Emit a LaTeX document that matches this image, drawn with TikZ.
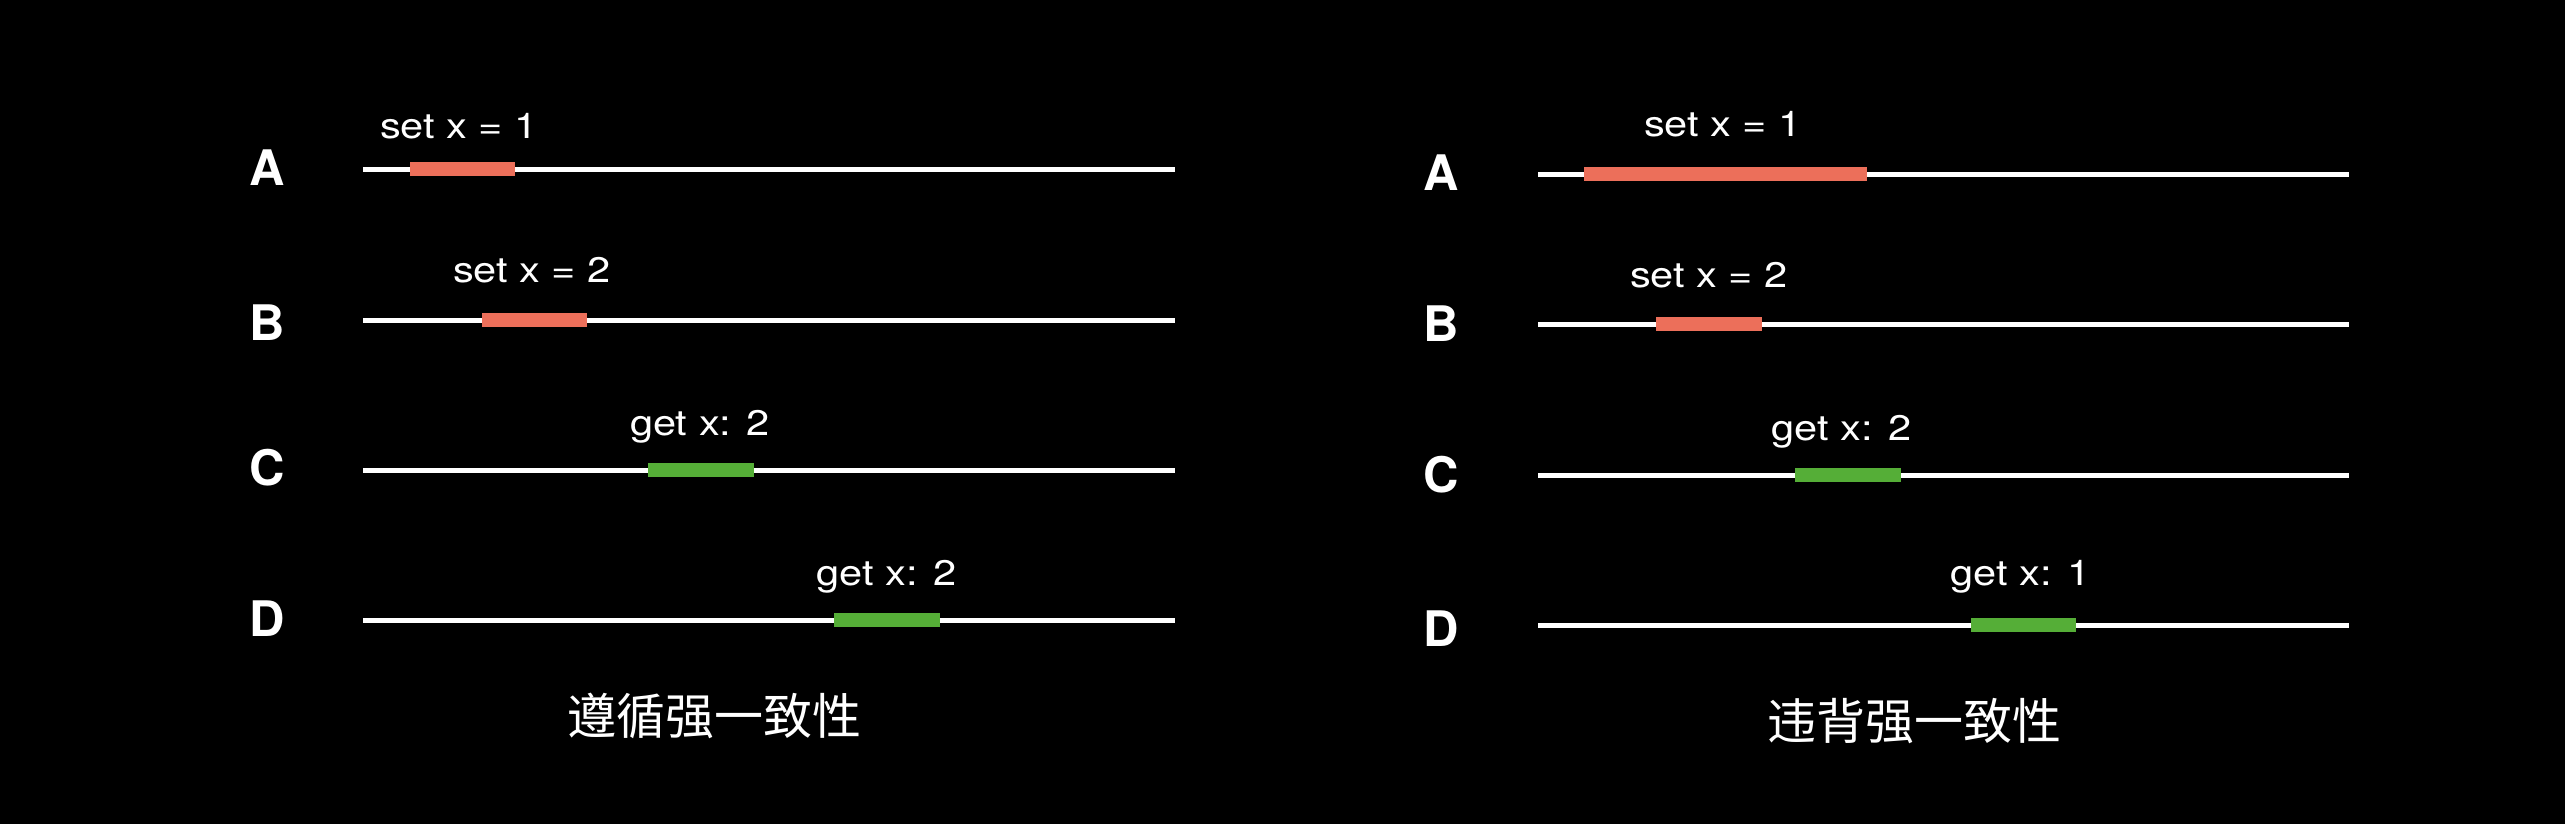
\documentclass[tikz,border=0pt]{standalone}
\usepackage{fontspec}
\usepackage{graphicx}
\setmainfont{TeX Gyre Heros}
\newfontfamily\cjk{Noto Sans CJK SC}
\definecolor{setred}{RGB}{236,111,90}
\definecolor{getgreen}{RGB}{85,174,55}
\newcommand\opw[1]{\scalebox{1.17}[1]{#1}}
\begin{document}
\begin{tikzpicture}[x=1pt,y=-1pt,
  track/.style={draw=white,line width=5pt},
  setbar/.style={draw=setred,line width=14pt},
  getbar/.style={draw=getgreen,line width=14pt},
  proc/.style={text=white,inner sep=0pt,font=\fontsize{49}{55}\selectfont\bfseries},
  oplabel/.style={text=white,inner sep=0pt,anchor=base,font=\fontsize{35.5}{40}\selectfont},
  caption/.style={text=white,inner sep=0pt,font=\cjk\fontsize{49}{55}\selectfont}]
\useasboundingbox (0,0) rectangle (2565,823);
\fill[black] (-3,-3) rectangle (2568,826);

% ---------- left panel ----------
\node[proc] (LA) at (267,167.5) {A};
\node[proc] (LB) at (267,323) {B};
\node[proc] (LC) at (267,467.5) {C};
\node[proc] (LD) at (267,618.5) {D};

\coordinate (LA1) at (363,169.3); \coordinate (LA2) at (1175,169.3);
\coordinate (LB1) at (363,320.3); \coordinate (LB2) at (1175,320.3);
\coordinate (LC1) at (363,470.3); \coordinate (LC2) at (1175,470.3);
\coordinate (LD1) at (363,620.3); \coordinate (LD2) at (1175,620.3);
\draw[track] (LA1) -- (LA2);
\draw[track] (LB1) -- (LB2);
\draw[track] (LC1) -- (LC2);
\draw[track] (LD1) -- (LD2);

\coordinate (LAs) at (410,169.3); \coordinate (LAe) at (515,169.3);
\coordinate (LBs) at (482,320.3); \coordinate (LBe) at (587,320.3);
\coordinate (LCs) at (648,470.3); \coordinate (LCe) at (754,470.3);
\coordinate (LDs) at (834,620.3); \coordinate (LDe) at (940,620.3);
\draw[setbar] (LAs) -- (LAe);
\draw[setbar] (LBs) -- (LBe);
\draw[getbar] (LCs) -- (LCe);
\draw[getbar] (LDs) -- (LDe);

\node[oplabel] (LAt) at (459,138) {\opw{set x = 1}};
\node[oplabel] (LBt) at (532,282.7) {\opw{set x = 2}};
\node[oplabel] (LCt) at (700,435) {\opw{get x: 2}};
\node[oplabel] (LDt) at (886.5,585) {\opw{get x: 2}};

\node[caption] (Lcap) at (714,715.5) {遵循强一致性};

% ---------- right panel ----------
\node[proc] (RA) at (1441,172.5) {A};
\node[proc] (RB) at (1441,324) {B};
\node[proc] (RC) at (1441,475) {C};
\node[proc] (RD) at (1441,628.5) {D};

\coordinate (RA1) at (1538,174.3); \coordinate (RA2) at (2349,174.3);
\coordinate (RB1) at (1538,324.3); \coordinate (RB2) at (2349,324.3);
\coordinate (RC1) at (1538,475.3); \coordinate (RC2) at (2349,475.3);
\coordinate (RD1) at (1538,625.3); \coordinate (RD2) at (2349,625.3);
\draw[track] (RA1) -- (RA2);
\draw[track] (RB1) -- (RB2);
\draw[track] (RC1) -- (RC2);
\draw[track] (RD1) -- (RD2);

\coordinate (RAs) at (1584,174.3); \coordinate (RAe) at (1867,174.3);
\coordinate (RBs) at (1656,324.3); \coordinate (RBe) at (1762,324.3);
\coordinate (RCs) at (1795,475.3); \coordinate (RCe) at (1901,475.3);
\coordinate (RDs) at (1971,625.3); \coordinate (RDe) at (2076,625.3);
\draw[setbar] (RAs) -- (RAe);
\draw[setbar] (RBs) -- (RBe);
\draw[getbar] (RCs) -- (RCe);
\draw[getbar] (RDs) -- (RDe);

\node[oplabel] (RAt) at (1723,136.7) {\opw{set x = 1}};
\node[oplabel] (RBt) at (1709,287.3) {\opw{set x = 2}};
\node[oplabel] (RCt) at (1841.5,440.7) {\opw{get x: 2}};
\node[oplabel] (RDt) at (2020.5,585.7) {\opw{get x: 1}};

\node[caption] (Rcap) at (1914,721.5) {违背强一致性};
\end{tikzpicture}
\end{document}
